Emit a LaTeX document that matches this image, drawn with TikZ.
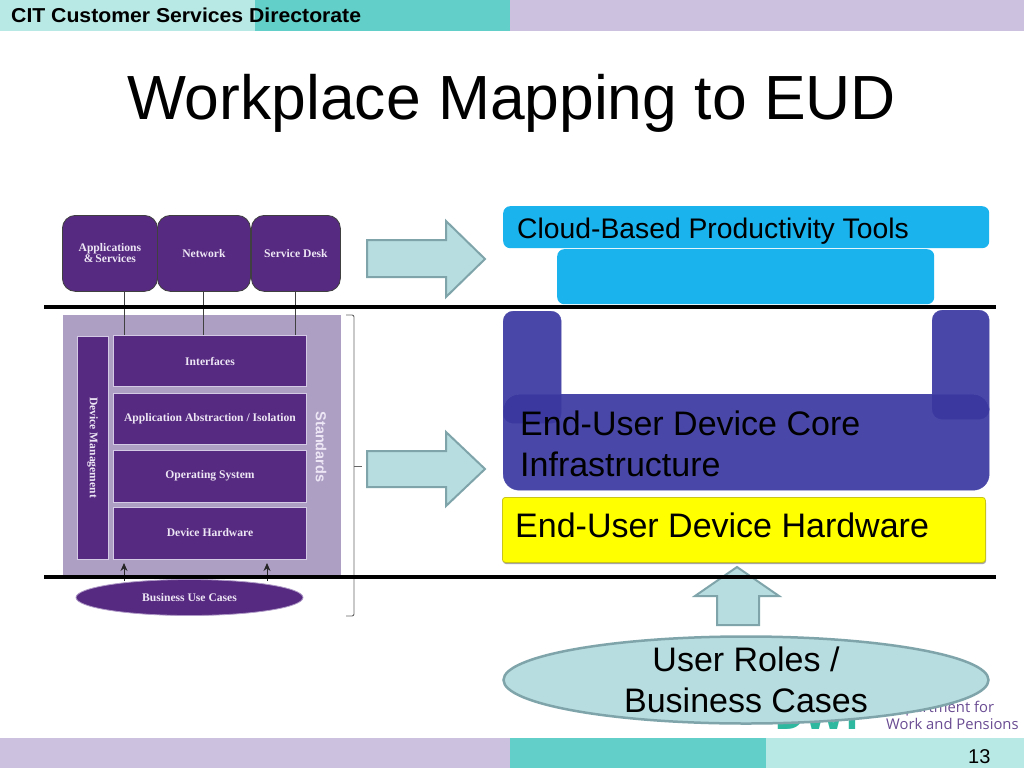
\documentclass[tikz,border=0pt]{standalone}
\usepackage{fontspec}
\setmainfont{Liberation Sans}
\newfontfamily\slabel{Liberation Serif}
\newfontfamily\logofont{Open Sans}
\usetikzlibrary{calc,shapes.geometric,arrows.meta}
\definecolor{tealL}{HTML}{B9E9E4}
\definecolor{tealD}{HTML}{62CFC8}
\definecolor{lilac}{HTML}{CCC1DF}
\definecolor{purp}{HTML}{562A80}
\definecolor{purpbg}{HTML}{AD9FC4}
\definecolor{purpln}{HTML}{D5CAE6}
\definecolor{cloudc}{HTML}{1AB3EE}
\definecolor{corec}{HTML}{3A38A0}
\definecolor{arrowf}{HTML}{B8DDE0}
\definecolor{arrowb}{HTML}{7FA5AB}
\definecolor{logop}{HTML}{6A4C93}
\definecolor{logot}{HTML}{2FB8A0}
\definecolor{yell}{HTML}{FFFF00}
\definecolor{yellb}{HTML}{C9C41A}
\definecolor{labelc}{HTML}{EDE6F5}
\tikzset{
 fs/.style={font=\fontsize{#1}{#1}\selectfont},
 band/.style={draw=none,inner sep=0pt,outer sep=0pt,anchor=north west},
 rbox/.style={rectangle,rounded corners=13pt,fill=purp,draw=black!75,line width=.8pt,inner sep=0pt,text=labelc},
 layerbox/.style={rectangle,fill=purp,draw=purpln,line width=1pt,inner sep=0pt,text=labelc},
 inner/.style={font=\slabel\bfseries\fontsize{11.6}{12}\selectfont,align=center},
 cloudbox/.style={rectangle,rounded corners=7pt,fill=cloudc,inner sep=0pt,anchor=north west},
 corebox/.style={rectangle,rounded corners=10pt,fill=corec,fill opacity=.92,draw=corec!90!white,inner sep=0pt,anchor=north west},
 blockarrow/.style={fill=arrowf,draw=arrowb,line width=2pt,line join=miter},
 heavy/.style={line width=4.5pt,black},
 thinlink/.style={line width=1pt,black!75},
 txt/.style={inner sep=0pt,anchor=base west,text=black},
 uptip/.style={-{Stealth[length=8pt,width=7pt]},line width=1pt,black!85},
}
\begin{document}
\begin{tikzpicture}[x=1pt,y=-1pt]
\useasboundingbox (0,0) rectangle (1024,768);
\fill[white] (0,0) rectangle (1024,768);
% header and footer bands
\node[band,fill=tealL,minimum width=255pt,minimum height=31pt] (h1) at (0,0) {};
\node[band,fill=tealD,minimum width=255pt,minimum height=31pt] (h2) at (255,0) {};
\node[band,fill=lilac,minimum width=514pt,minimum height=31pt] (h3) at (510,0) {};
\node[band,fill=lilac,minimum width=510pt,minimum height=30pt] (f1) at (0,738) {};
\node[band,fill=tealD,minimum width=256pt,minimum height=30pt] (f2) at (510,738) {};
\node[band,fill=tealL,minimum width=258pt,minimum height=30pt] (f3) at (766,738) {};
\node[txt,font=\bfseries\fontsize{21.2}{21}\selectfont,xscale=1,yscale=.95] (hdr) at (11,22.5) {CIT Customer Services Directorate};
\node[txt,fs=20] (pg) at (968,763) {13};
\node[txt,fs=62.4] (title) at (127,119) {Workplace Mapping to EUD};
% logo
\node[txt,font=\logofont\bfseries\fontsize{42}{42}\selectfont,text=logot] (dwp) at (774,729) {DWP};
\node[txt,font=\logofont\fontsize{14.8}{15}\selectfont,text=logop] (dept) at (886,712) {Department for};
\node[txt,font=\logofont\fontsize{14.8}{15}\selectfont,text=logop] (wp) at (886,729) {Work and Pensions};
% left panel
\node[rectangle,fill=purpbg,inner sep=0pt,anchor=north west,minimum width=278pt,minimum height=262pt] (bg) at (63,315) {};
\node[rbox,minimum width=95pt,minimum height=76pt,inner,anchor=north west] (apps) at (62,215) {Applications\\[-1pt]\&\,Services};
\node[rbox,minimum width=93pt,minimum height=76pt,inner,anchor=north west] (net) at (157,215) {Network};
\node[rbox,minimum width=89pt,minimum height=76pt,inner,anchor=north west] (desk) at (251,215) {Service Desk};
\node[layerbox,minimum width=193pt,minimum height=51pt,inner,anchor=north west] (iface) at (113,335) {Interfaces};
\node[layerbox,minimum width=193pt,minimum height=51pt,inner,anchor=north west] (abst) at (113,393) {Application Abstraction / Isolation};
\node[layerbox,minimum width=193pt,minimum height=52pt,inner,anchor=north west] (os) at (113,449.5) {Operating System};
\node[layerbox,minimum width=193pt,minimum height=52pt,inner,anchor=north west] (hw) at (113,506.5) {Device Hardware};
\node[layerbox,minimum width=223pt,minimum height=31pt,inner,rotate=-90] (mgmt) at (92.5,447.5) {Device Management};
\node[rotate=-90,inner sep=0pt,text=labelc,font=\bfseries\fontsize{14.5}{14}\selectfont] (std) at (321,447) {Standards};
\coordinate (x1) at (124,0);
\coordinate (x2) at (267,0);
\draw[thinlink] (x1 |- apps.south) -- (x1 |- iface.north);
\draw[thinlink] (net.south) -- (net.south |- iface.north);
\draw[thinlink] (desk.south) -- (desk.south |- iface.north);
% bracket
\coordinate (brA) at (346,315);
\coordinate (brB) at (346,616);
\coordinate (brC) at (362,466);
\draw[line width=.9pt,black!60,rounded corners=2pt] (brA) -- (354,315) -- (354,616) -- (brB);
\draw[line width=.9pt,black!60] (354,466) -- (brC);
% block arrows
\draw[blockarrow] (367,240) -- (446,240) -- (446,221) -- (485,259) -- (446,297) -- (446,277) -- (367,277) -- cycle;
\draw[blockarrow] (367,451) -- (446,451) -- (446,432) -- (485,469) -- (446,506) -- (446,487) -- (367,487) -- cycle;
\draw[blockarrow] (717,625) -- (717,596) -- (695,596) -- (737,567) -- (779,596) -- (759,596) -- (759,625) -- cycle;
% arrows up from the use cases
\coordinate (a1s) at (124,581);
\coordinate (a1e) at (124,563);
\coordinate (a2s) at (267,581);
\coordinate (a2e) at (267,563);
\draw[uptip] (a1s) -- (a1e);
\draw[uptip] (a2s) -- (a2e);
% heavy lines
\coordinate (la) at (44,307);
\coordinate (lb) at (996,307);
\coordinate (lc) at (44,577);
\coordinate (ld) at (996,577);
\draw[heavy] (la) -- (lb);
\draw[heavy] (lc) -- (ld);
% business use cases
\node[ellipse,fill=purp,draw=purpln!70!purp,line width=.8pt,inner sep=0pt,minimum width=227pt,minimum height=36pt,inner,text=labelc] (buc) at (189.5,597.5) {Business Use Cases};
% right stack
\node[cloudbox,minimum width=486pt,minimum height=42pt] (cloud) at (503,206) {};
\node[cloudbox,minimum width=377pt,minimum height=55pt] (cloud2) at (557,249) {};
\node[corebox,minimum width=58pt,minimum height=112pt] (pl) at (503,311) {};
\node[corebox,minimum width=57pt,minimum height=109pt] (pr) at (932,310) {};
\node[corebox,rounded corners=16pt,minimum width=486pt,minimum height=96pt] (core) at (503,394) {};
\fill[black!35,rounded corners=3pt] (503,500) rectangle (986,564);
\node[rectangle,rounded corners=3pt,fill=yell,draw=yellb,line width=.8pt,inner sep=0pt,anchor=north west,minimum width=483pt,minimum height=65pt] (yhw) at (502,497) {};
\node[txt,fs=28.3] (tcloud) at (517,238) {Cloud-Based Productivity Tools};
\node[txt,fs=34] (tcore1) at (520,435) {End-User Device Core};
\node[txt,fs=34] (tcore2) at (520,476) {Infrastructure};
\node[txt,fs=34] (thw) at (515,537) {End-User Device Hardware};
% user roles
\node[ellipse,fill=arrowf,draw=arrowb,line width=2.5pt,inner sep=0pt,minimum width=485pt,minimum height=87pt] (roles) at (746,680) {};
\node[inner sep=0pt,anchor=base,fs=34] (tr1) at (746,671) {User Roles /};
\node[inner sep=0pt,anchor=base,fs=34] (tr2) at (746,712) {Business Cases};
\end{tikzpicture}
\end{document}
